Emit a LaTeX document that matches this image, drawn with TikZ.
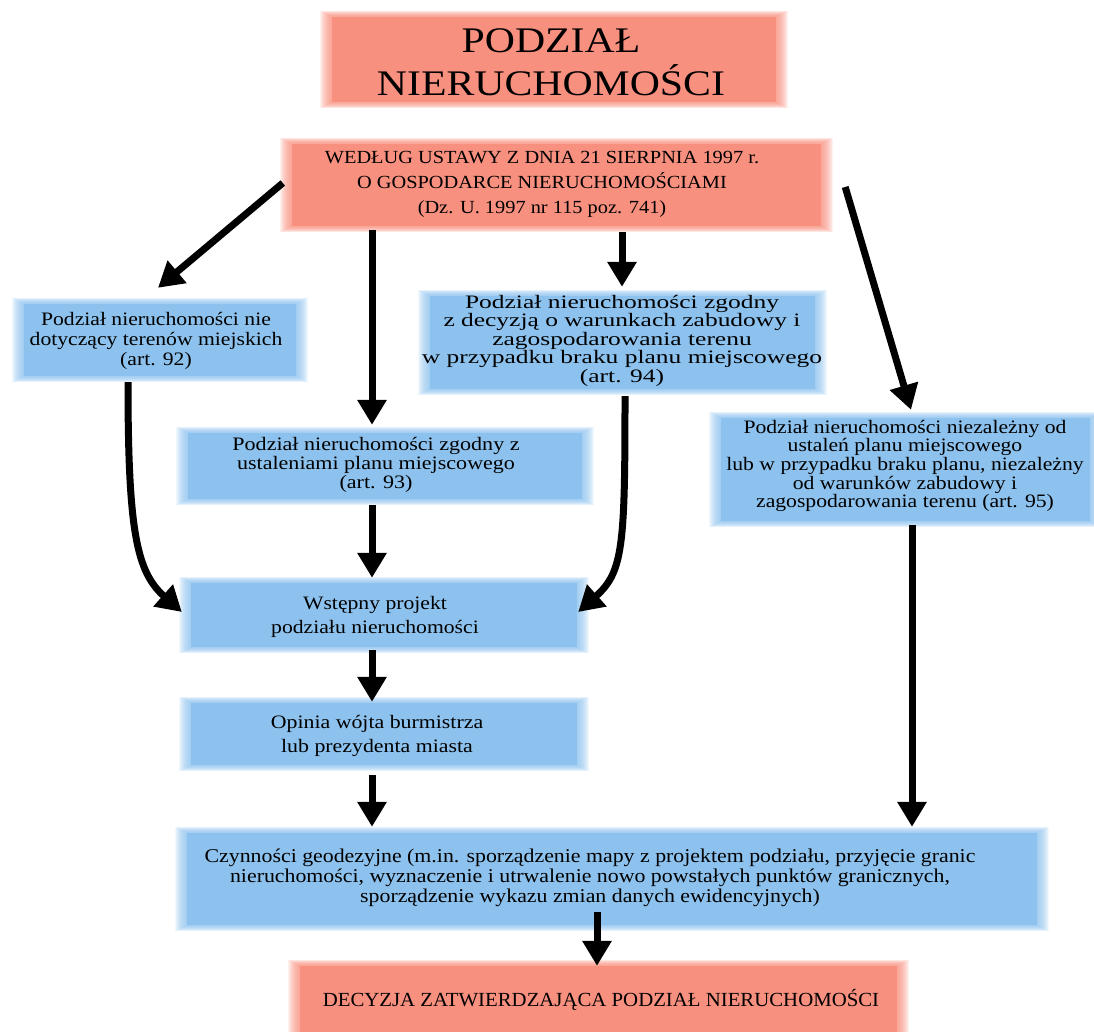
\documentclass[tikz,border=0pt]{standalone}
\usepackage{fontspec}
\setmainfont{Liberation Serif}
\usepackage{graphicx}
\usetikzlibrary{arrows.meta,backgrounds}
\definecolor{salmon}{HTML}{F8907F}
\definecolor{sky}{HTML}{8DC2EE}
\newcommand\fz[2]{%
  \begin{scope}[on background layer]
    \foreach \k in {12,11,...,1}{%
      \fill[#2,opacity=0.12] ([xshift=-1pt*\k,yshift=0.5pt*\k]#1.north west) rectangle ([xshift=1pt*\k,yshift=-0.5pt*\k]#1.south east);}
    \fill[#2] (#1.north west) rectangle (#1.south east);
  \end{scope}}
\newcommand\T[4]{\fontsize{#1}{#2}\selectfont\scalebox{#3}[1]{\begin{tabular}[t]{@{}c@{}}#4\end{tabular}}}
\begin{document}
\begin{tikzpicture}[x=1pt,y=-1pt,
  box/.style 2 args={minimum width=#1pt, minimum height=#2pt, inner sep=0pt},
  txt/.style={anchor=base, inner sep=0pt},
  arr/.style={line width=7pt, -{Triangle[width=28pt,length=25pt]}}]
\useasboundingbox (0,0) rectangle (1094,1032);
\clip (0,0) rectangle (1094,1032);
% boxes
\node[box={444}{85}] (title) at (554,59.5) {};
\node[box={529}{82}] (ustawa) at (556.5,185) {};
\node[box={272}{72}] (b92) at (160,340) {};
\node[box={385}{93}] (b94) at (622.5,342.5) {};
\node[box={394}{66}] (b93) at (385,466) {};
\node[box={369}{103}] (b95) at (905.5,469.5) {};
\node[box={386}{64}] (bw) at (384,615) {};
\node[box={386}{62}] (bo) at (384,734) {};
\node[box={850}{92}] (bc) at (612,879) {};
\node[box={597}{74}] (bd) at (598.5,1003) {};
\fz{title}{salmon}\fz{ustawa}{salmon}\fz{bd}{salmon}
\fz{b92}{sky}\fz{b94}{sky}\fz{b93}{sky}\fz{b95}{sky}\fz{bw}{sky}\fz{bo}{sky}\fz{bc}{sky}
% texts
\node[txt] (ttitle) at (551,53) {\T{36}{37}{1.16}{PODZIAŁ\\NIERUCHOMOŚCI}};
\node[txt] (tustawa) at (542,164) {\T{18.5}{25}{1.1}{WEDŁUG USTAWY Z DNIA 21 SIERPNIA 1997 r.\\O GOSPODARCE NIERUCHOMOŚCIAMI\\(Dz. U. 1997 nr 115 poz. 741)}};
\node[txt] (t92) at (156,325) {\T{19}{20}{1.14}{Podział nieruchomości nie\\dotyczący terenów miejskich\\(art. 92)}};
\node[txt] (t94) at (622,308) {\T{19}{18}{1.34}{Podział nieruchomości zgodny\\z decyzją o warunkach zabudowy i\\zagospodarowania terenu\\w przypadku braku planu miejscowego\\(art. 94)}};
\node[txt] (t93) at (376,450) {\T{19}{19}{1.16}{Podział nieruchomości zgodny z\\ustaleniami planu miejscowego\\(art. 93)}};
\node[txt] (t95) at (905,433) {\T{19}{18.5}{1.14}{Podział nieruchomości niezależny od\\ustaleń planu miejscowego\\lub w przypadku braku planu, niezależny\\od warunków zabudowy i\\zagospodarowania terenu (art. 95)}};
\node[txt] (tw) at (375,609) {\T{19}{24}{1.14}{Wstępny projekt\\podziału nieruchomości}};
\node[txt] (to) at (377,728) {\T{19}{24}{1.15}{Opinia wójta burmistrza\\lub prezydenta miasta}};
\node[txt] (tc) at (590,862) {\T{19.5}{20}{1.12}{Czynności geodezyjne (m.in. sporządzenie mapy z projektem podziału, przyjęcie granic\\nieruchomości, wyznaczenie i utrwalenie nowo powstałych punktów granicznych,\\sporządzenie wykazu zmian danych ewidencyjnych)}};
\node[txt] (td) at (601,1006) {\T{20}{22}{1.04}{DECYZJA ZATWIERDZAJĄCA PODZIAŁ NIERUCHOMOŚCI}};
% arrows
\draw[arr] ([shift={(-9,-2)}]ustawa.west) -- ([shift={(-2,-16)}]b92.north);
\draw[arr] ([shift={(-184.5,4)}]ustawa.south) -- ([shift={(-13,-8)}]b93.north);
\draw[arr] ([shift={(65.5,6)}]ustawa.south) -- ([shift={(-0.5,-9)}]b94.north);
\draw[arr] ([shift={(24,2)}]ustawa.east) -- ([shift={(5.5,-8)}]b95.north);
\draw[arr] ([shift={(-32,6)}]b92.south) .. controls +(0,150) and +(-45,-40) .. ([shift={(-9,-3)}]bw.west);
\draw[arr] ([shift={(2.5,7)}]b94.south) .. controls +(0,150) and +(45,-40) .. ([shift={(1,-3)}]bw.east);
\draw[arr] ([shift={(-13,6)}]b93.south) -- ([shift={(-12,-5)}]bw.north);
\draw[arr] ([shift={(-12,3)}]bw.south) -- ([shift={(-12,-1)}]bo.north);
\draw[arr] ([shift={(-12,10)}]bo.south) -- ([shift={(-240,-6)}]bc.north);
\draw[arr] ([shift={(6.5,4)}]b95.south) -- ([shift={(300,-6)}]bc.north);
\draw[arr] ([shift={(-15,-13)}]bc.south) -- ([shift={(-1.5,0)}]bd.north);
\end{tikzpicture}
\end{document}
